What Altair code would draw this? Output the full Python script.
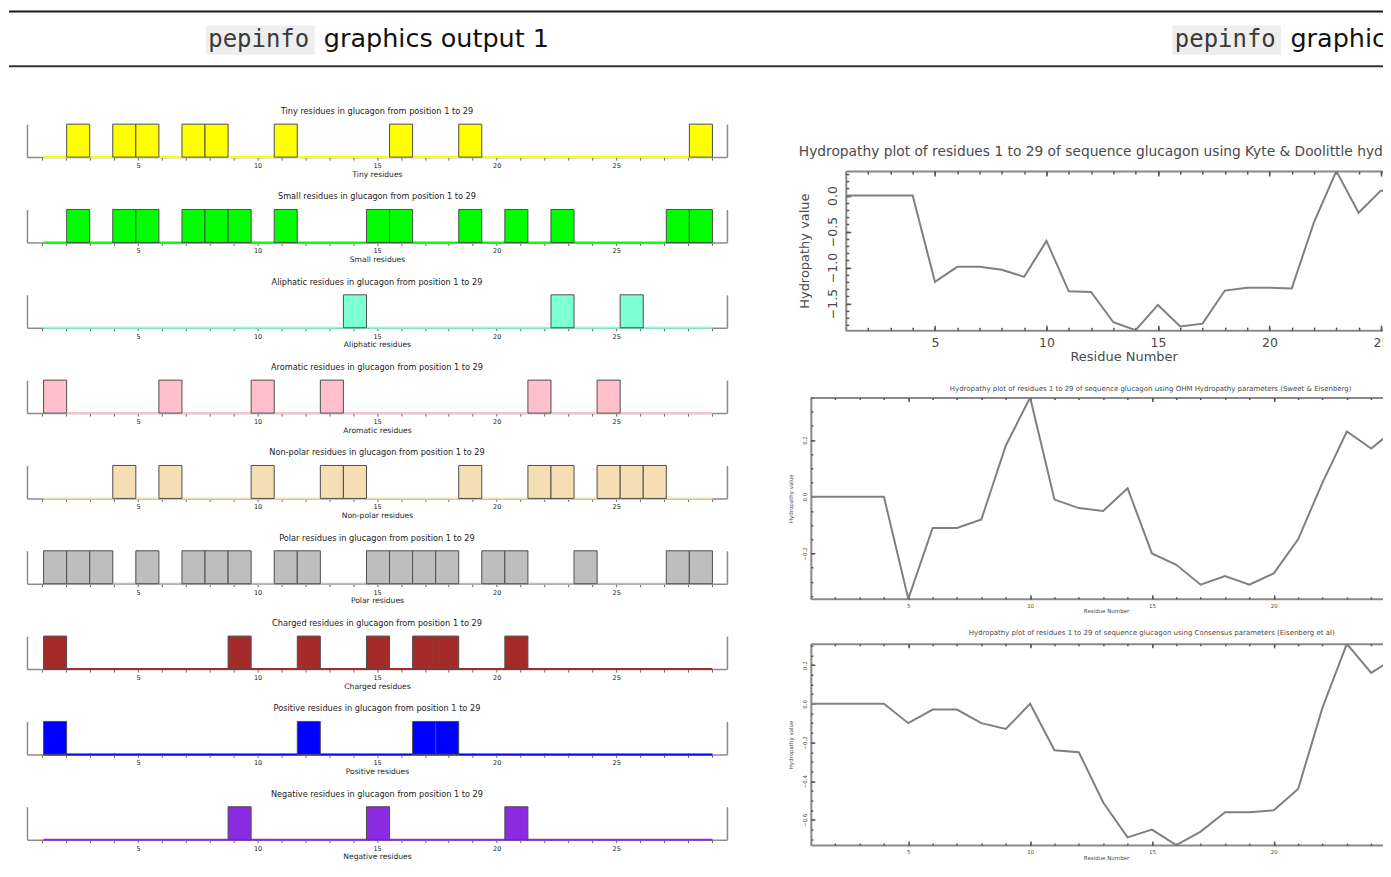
import altair as alt
import pandas as pd

# ---------------- data ----------------
residue_numbers = list(range(1, 30))
axis_tick_labels = [5, 10, 15, 20, 25]

tiny_residues = [2, 4, 5, 7, 8, 11, 16, 19, 29]
small_residues = [2, 4, 5, 7, 8, 9, 11, 15, 16, 19, 21, 23, 28, 29]
aliphatic_residues = [14, 23, 26]
aromatic_residues = [1, 6, 10, 13, 22, 25]
nonpolar_residues = [4, 6, 10, 13, 14, 19, 22, 23, 25, 26, 27]
polar_residues = [1, 2, 3, 5, 7, 8, 9, 11, 12, 15, 16, 17, 18, 20, 21, 24, 28, 29]
charged_residues = [1, 9, 12, 15, 17, 18, 21]
positive_residues = [1, 12, 17, 18]
negative_residues = [9, 15, 21]

panel_names = ["Tiny", "Small", "Aliphatic", "Aromatic", "Non-polar",
               "Polar", "Charged", "Positive", "Negative"]
panel_residues = [tiny_residues, small_residues, aliphatic_residues, aromatic_residues,
                  nonpolar_residues, polar_residues, charged_residues,
                  positive_residues, negative_residues]
panel_colors = ["#ffff00", "#00ff00", "#7fffd4", "#ffc0cb", "#f5deb3",
                "#bebebe", "#a52a2a", "#0000ff", "#8a2be2"]

kd_values = [0, 0, 0, 0, -1.20, -0.99, -0.99, -1.03, -1.13, -0.63, -1.33, -1.34, -1.76, -1.87,
             -1.52, -1.82, -1.78, -1.32, -1.28, -1.28, -1.29, -0.37, 0.34, -0.24, 0.07, 0, 0, 0, 0]
ohm_values = [0, 0, 0, 0, -0.36, -0.11, -0.11, -0.08, 0.18, 0.35, -0.01, -0.04, -0.05, 0.03,
              -0.20, -0.24, -0.31, -0.28, -0.31, -0.27, -0.15, 0.05, 0.23, 0.17, 0.24, 0, 0, 0, 0]
consensus_values = [0, 0, 0, 0, -0.10, -0.03, -0.03, -0.10, -0.13, 0.00, -0.24, -0.25, -0.51, -0.69,
                    -0.65, -0.73, -0.66, -0.56, -0.56, -0.55, -0.44, -0.02, 0.31, 0.16, 0.24, 0, 0, 0, 0]

kd_y_labels = [-1.5, -1.0, -0.5, 0.0]
ohm_y_labels = [-0.2, 0.0, 0.2]
consensus_y_labels = [-0.6, -0.4, -0.2, 0.0, 0.2]
kd_y_minor = [round(-1.8 + 0.1 * i, 2) for i in range(22)]
ohm_y_minor = [round(-0.35 + 0.05 * i, 2) for i in range(15)]
consensus_y_minor = [round(-0.70 + 0.05 * i, 2) for i in range(21)]

hydro_titles = [
    "Hydropathy plot of residues 1 to 29 of sequence glucagon using Kyte & Doolittle hydropathy parameters",
    "Hydropathy plot of residues 1 to 29 of sequence glucagon using OHM Hydropathy parameters (Sweet & Eisenberg)",
    "Hydropathy plot of residues 1 to 29 of sequence glucagon using Consensus parameters (Eisenberg et al)",
]
header_code = "pepinfo"
header_titles = ["graphics output 1", "graphics output 2"]

# ---------------- styles ----------------
FONT = "DejaVu Sans"
SANS = "DejaVu Sans"
MONO = "DejaVu Sans Mono"
TXT = "#222222"
RTXT = "#4a4a4a"
LINE = "#808080"
BORDER = "#8a8a8a"
CLEAR = alt.ViewBackground(fill="#ffffff", fillOpacity=0)

LW, LH = 701, 33
LABEL_DOM = [0.357, 29.63]
BAR_DOM = [0.28, 30.63]


def spacer(w, h):
    return alt.Chart(pd.DataFrame({"a": [0]})).mark_point(opacity=0).properties(
        width=w, height=h, view=CLEAR)


def left_panel(name, positions, color):
    axis_df = pd.DataFrame({"r": residue_numbers, "y0": [0.0] * len(residue_numbers)})
    ys = alt.Scale(domain=[0, 1], nice=False, zero=False)
    axis_layer = alt.Chart(axis_df).mark_point(opacity=0).encode(
        x=alt.X("r:Q", scale=alt.Scale(domain=LABEL_DOM, nice=False, zero=False),
                axis=alt.Axis(values=residue_numbers,
                              labelExpr="datum.value % 5 == 0 ? datum.label : ''",
                              tickSize=3, tickColor="#666666", domainColor="#8c8c8c", domainWidth=1.5,
                              labelFontSize=6.5, labelPadding=2.5, labelColor=TXT, labelFont=FONT,
                              labelFlush=False, grid=False,
                              title=f"{name} residues", titleFontSize=7.6, titleFontWeight="normal",
                              titlePadding=1, titleColor=TXT, titleFont=FONT)),
        y=alt.Y("y0:Q", scale=ys,
                axis=alt.Axis(orient="left", labels=False, ticks=False, title=None, grid=False,
                              domainColor="#8c8c8c", domainWidth=1.5)),
    )
    right_edge = alt.Chart(axis_df).mark_point(opacity=0).encode(
        y=alt.Y("y0:Q", scale=ys,
                axis=alt.Axis(orient="right", labels=False, ticks=False, title=None, grid=False,
                              domainColor="#8c8c8c", domainWidth=1.5)),
    )
    xs = alt.Scale(domain=BAR_DOM, nice=False, zero=False)
    base_df = pd.DataFrame({"s": [residue_numbers[0]], "e": [residue_numbers[-1] + 1], "z": [0]})
    baseline = alt.Chart(base_df).mark_rule(color=color, strokeWidth=2).encode(
        x=alt.X("s:Q", scale=xs, axis=None), x2="e:Q", y=alt.Y("z:Q", scale=ys, axis=None))
    bar_df = pd.DataFrame({"pos": positions})
    bar_df["pos_end"] = bar_df["pos"] + 1
    bar_df["lo"] = 0
    bar_df["hi"] = 1
    bars = alt.Chart(bar_df).mark_rect(fill=color, stroke="#4d4d4d", strokeWidth=1).encode(
        x=alt.X("pos:Q", scale=xs, axis=None), x2="pos_end:Q",
        y=alt.Y("hi:Q", scale=ys, axis=None), y2="lo:Q")
    return alt.layer(axis_layer, right_edge, baseline, bars).resolve_scale(
        x="independent").resolve_axis(y="independent").properties(
        width=LW, height=LH,
        title=alt.TitleParams(text=f"{name} residues in glucagon from position 1 to 29",
                              fontSize=8.2, font=FONT, fontWeight="normal", color=TXT,
                              anchor="middle", frame="group", offset=7.5))


def hydro_panel(values, width, height, x_max, major_y, minor_y, fs_lab, fs_tit, title_params,
                lab_pad_x, tit_pad_x, lab_pad_y, tit_pad_y, tmaj, tmin):
    df = pd.DataFrame({"res": residue_numbers, "val": values})
    xs = alt.Scale(domain=[residue_numbers[0], x_max], nice=False, zero=False)
    ys = alt.Scale(domain=[min(values), max(values)], nice=False, zero=False)
    x_labels = [v for v in axis_tick_labels if v <= x_max]
    x_minor = [v for v in residue_numbers if v <= x_max]
    base = alt.Chart(df)
    line = base.mark_line(color=LINE, strokeWidth=2, clip=True).encode(
        x=alt.X("res:Q", scale=xs,
                axis=alt.Axis(values=x_labels, ticks=False, tickSize=0, domain=True,
                              domainColor=BORDER, domainWidth=2, grid=False,
                              labelFontSize=fs_lab, labelPadding=lab_pad_x, labelColor=RTXT, labelFont=FONT,
                              labelFlush=False, title="Residue Number", titleFontSize=fs_tit,
                              titleFontWeight="normal", titleColor=RTXT, titlePadding=tit_pad_x,
                              titleFont=FONT)),
        y=alt.Y("val:Q", scale=ys,
                axis=alt.Axis(values=major_y, format=".1f", ticks=False, tickSize=0, domain=True,
                              domainColor=BORDER, domainWidth=2,
                              grid=False, labelAngle=270, labelAlign="center", labelBaseline="bottom",
                              labelFontSize=fs_lab, labelPadding=lab_pad_y, labelColor=RTXT,
                              labelFont=FONT, labelFlush=False, title="Hydropathy value",
                              titleFontSize=fs_tit, titleFontWeight="normal", titleColor=RTXT,
                              titlePadding=tit_pad_y, titleFont=FONT)),
    )
    top_border = base.mark_point(opacity=0, clip=True).encode(
        x=alt.X("res:Q", scale=xs,
                axis=alt.Axis(orient="top", labels=False, ticks=False, domain=True, domainColor=BORDER,
                              domainWidth=2, grid=False, title=None)),
        y=alt.Y("val:Q", scale=ys, axis=None))

    def xt(orient, vals, size):
        return base.mark_point(opacity=0, clip=True).encode(
            x=alt.X("res:Q", scale=xs,
                    axis=alt.Axis(orient=orient, values=vals, labels=False, tickSize=size, offset=-size,
                                  domain=False, grid=False, title=None, tickColor="#555555",
                                  tickWidth=1.5)),
            y=alt.Y("val:Q", scale=ys, axis=None))

    def yt(vals, size):
        return base.mark_point(opacity=0, clip=True).encode(
            x=alt.X("res:Q", scale=xs, axis=None),
            y=alt.Y("val:Q", scale=ys,
                    axis=alt.Axis(orient="left", values=vals, labels=False, tickSize=size, offset=-size,
                                  domain=False, grid=False, title=None, tickColor="#555555",
                                  tickWidth=1.5)))

    layers = [line, top_border,
              xt("bottom", x_labels, tmaj), xt("bottom", x_minor, tmin),
              xt("top", x_labels, tmaj), xt("top", x_minor, tmin),
              yt(major_y, tmaj), yt(minor_y, tmin)]
    props = dict(width=width, height=height)
    if title_params is not None:
        props["title"] = title_params
    return alt.layer(*layers).resolve_axis(x="independent", y="independent").properties(**props)


# ---------------- left column ----------------
left_panels = [left_panel(n, r, c) for n, r, c in zip(panel_names, panel_residues, panel_colors)]
left_col = alt.vconcat(*left_panels, spacing=13.45)

# ---------------- right column ----------------
PAGE_END = 1403          # content is drawn past the window edge and clipped there
R1_W = PAGE_END - 846.5
R23_W = PAGE_END - 811.7
r1 = hydro_panel(kd_values, R1_W, 159.3, 1 + R1_W / 22.33, kd_y_labels, kd_y_minor, 12.5, 13, None,
                 6.4, 1.5, 6, 15.5, 5, 3)
r2 = hydro_panel(ohm_values, R23_W, 201.7, 1 + R23_W / 24.4, ohm_y_labels, ohm_y_minor, 5.5, 5.5,
                 alt.TitleParams(text=hydro_titles[1], fontSize=7, font=FONT, fontWeight="normal",
                                 color=RTXT, anchor="middle", frame="group",
                                 dx=1152 - (811.7 + R23_W / 2), offset=4.5),
                 4.3, 0.2, 3.4, 9.3, 4, 2)
r3 = hydro_panel(consensus_values, R23_W, 201.6, 1 + R23_W / 24.4, consensus_y_labels,
                 consensus_y_minor, 5.5, 5.5,
                 alt.TitleParams(text=hydro_titles[2], fontSize=7, font=FONT, fontWeight="normal",
                                 color=RTXT, anchor="middle", frame="group",
                                 dx=1153 - (811.7 + R23_W / 2), offset=7),
                 4.3, 0.2, 3.4, 9.3, 4, 2)

r1_title_chart = alt.Chart(pd.DataFrame({"t": [hydro_titles[0]]})).mark_text(
    clip=True, align="left", baseline="alphabetic", font=FONT, fontSize=13.8, color=RTXT).encode(
    text="t:N", x=alt.value(0), y=alt.value(17.4)).properties(
    width=PAGE_END - 800, height=30, view=CLEAR)

right_col = alt.concat(
    spacer(1, 10.1),
    alt.hconcat(spacer(14.8, 1), r1_title_chart, spacing=0),
    alt.hconcat(spacer(13.2, 1), r1, spacing=0),
    alt.hconcat(spacer(1, 1), alt.vconcat(spacer(1, 2.1), r2, r3, spacing=13.7), spacing=0),
    columns=1, spacing=0, align="none")

# ---------------- header ----------------
HEADER_W = PAGE_END - 8
hb = alt.Chart(pd.DataFrame({"a": [0]}))
header_layers = [
    hb.mark_rule(color="#1a1a1a", strokeWidth=2).encode(
        x=alt.value(0), x2=alt.value(HEADER_W), y=alt.value(3)),
    hb.mark_rule(color="#333333", strokeWidth=2).encode(
        x=alt.value(0), x2=alt.value(HEADER_W), y=alt.value(57.7)),
]
for i, ttl in enumerate(header_titles):
    off = 968 * i
    header_layers.append(hb.mark_rect(color="#eeeeee", clip=True).encode(
        x=alt.value(197 + off), x2=alt.value(306 + off), y=alt.value(17), y2=alt.value(46.3)))
    header_layers.append(hb.mark_text(text=header_code, font=MONO, fontSize=24, color="#3a3a3a",
                                      align="left", baseline="alphabetic", clip=True).encode(
        x=alt.value(199.5 + off), y=alt.value(38.7)))
    header_layers.append(hb.mark_text(text=ttl, font=SANS, fontSize=25.5, color="#111111",
                                      align="left", baseline="alphabetic", clip=True).encode(
        x=alt.value(315.3 + off), y=alt.value(38.7)))
header = alt.layer(*header_layers).properties(width=HEADER_W, height=60, view=CLEAR)

row = alt.hconcat(spacer(17.5, 1), left_col, spacer(53.8, 1), right_col, spacing=0)
chart = alt.vconcat(header, row, spacing=37.7).properties(
    padding={"left": 0, "top": 0, "right": -20, "bottom": 0}).configure_view(stroke=None)

chart.save("out.html", embed_options={"renderer": "svg", "actions": False})
